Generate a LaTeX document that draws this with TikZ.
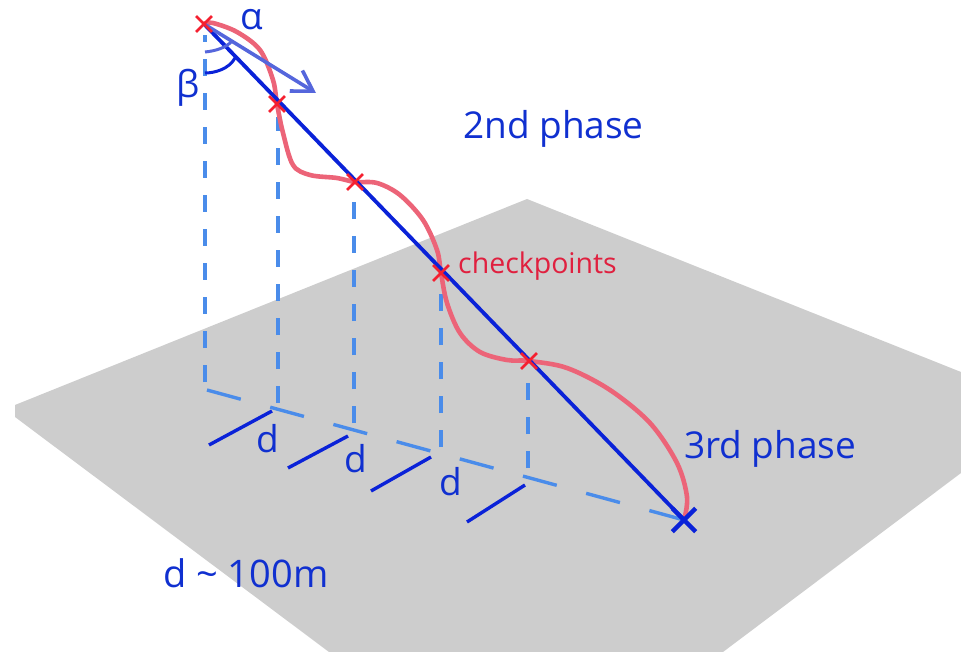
\documentclass[tikz,border=0pt]{standalone}
\usepackage{fontspec}
\setmainfont{Open Sans}
\usetikzlibrary{positioning,arrows.meta,shapes.misc}
\definecolor{plane}{HTML}{CDCDCD}
\definecolor{navy}{HTML}{0A22D8}
\definecolor{drop}{HTML}{4A8CEA}
\definecolor{head}{HTML}{5566DC}
\definecolor{curve}{HTML}{EC6478}
\definecolor{wpred}{HTML}{F52030}
\definecolor{txtblue}{HTML}{1030D0}
\definecolor{txtred}{HTML}{E0203F}

\begin{document}
\begin{tikzpicture}[x=1pt, y=-1pt,
  wp/.style={draw=wpred, cross out, line width=2.8pt, minimum size=13pt, inner sep=0pt},
  goal/.style={draw=navy, cross out, line width=4.4pt, minimum size=19pt, inner sep=0pt},
  drop/.style={draw=drop, line width=3.2pt, dash pattern=on 17pt off 17pt},
  foot/.style={draw=drop, line width=3.4pt, dash pattern=on 35pt off 30.5pt},
  tick/.style={draw=navy, line width=3.4pt},
  lbl/.style={text=txtblue, font=\fontsize{37}{42}\selectfont, inner sep=0pt, anchor=base west}]
\useasboundingbox (0,0) rectangle (961,652);
\fill[plane] (527,199) -- (961,372) -- (961,473) -- (723,652) -- (329,652) -- (15,417) -- (15,405) -- cycle;
\coordinate (cp0) at (204,24);
\coordinate (cp1) at (277,104);
\coordinate (cp2) at (355,182);
\coordinate (cp3) at (441,273);
\coordinate (cp4) at (529,361);
\coordinate (end) at (684,520);
\coordinate (ft0) at (205,382);
\coordinate (ft1) at (278,403);
\coordinate (ft2) at (354,423);
\coordinate (ft3) at (441,447);
\coordinate (ft4) at (528,468);
% drops to the ground
\draw[drop] (ft0) -- ([shift={(1,11)}]cp0);
\draw[drop] (ft1) -- ([shift={(1,13)}]cp1);
\draw[drop] (ft2) -- ([shift={(-1,20)}]cp2);
\draw[drop] (ft3) -- ([yshift=-20pt]cp3);
\draw[drop] (ft4) -- ([shift={(-1,22)}]cp4);
\draw[foot] (207,390) -- (end);
% d marks
\draw[tick] (209,445) -- (272,411);
\draw[tick] (288,468) -- (348,436);
\draw[tick] (371,491) -- (431,457);
\draw[tick] (467,522) -- (525,485);
% real path
\draw[curve, line width=4.6pt, line join=round] plot[smooth, tension=0.55] coordinates {(cp0) (213,23) (237,32) (260,50) (273,80) (cp1) (283,133) (293,165) (310,175) (337,178) (cp2) (377,183) (400,195) (423,220) (437,250) (cp3) (447,303) (460,333) (480,352) (507,360) (cp4) (567,368) (610,390) (650,423) (677,463) (687,497) (end)};
\draw[navy, line width=3.8pt] (cp0) -- (end);
\draw[head, line width=3.6pt, -{Straight Barb[length=7mm, width=8.5mm]}] (cp0) -- (316,93);
\draw[head, line width=3pt] (205,52) .. controls (215,51) and (226,48) .. (232,41);
\draw[navy, line width=3pt] (205,73) .. controls (215,73) and (229,69) .. (235,58);
\node[wp] (m0) at (cp0) {};
\node[wp] (m1) at (cp1) {};
\node[wp] (m2) at (cp2) {};
\node[wp] (m3) at (cp3) {};
\node[wp] (m4) at (cp4) {};
\node[goal] (mend) at (end) {};
\node[lbl] (alpha) at (240,30) {α};
\node[lbl] (beta) at (176,98) {β};
\node[lbl] (phase2) at (463,138.5) {2nd phase};
\node[lbl] (phase3) at (684,458) {3rd phase};
\node[lbl, text=txtred, font=\fontsize{28.5}{32}\selectfont] (chk) at (458,274) {checkpoints};
\node[lbl] (d1) at (256,452) {d};
\node[lbl] (d2) at (344,472) {d};
\node[lbl] (d3) at (439,495) {d};
\node[lbl, font=\fontsize{38}{42}\selectfont] (dist) at (163,587) {d \textasciitilde{} 100m};
\end{tikzpicture}
\end{document}
